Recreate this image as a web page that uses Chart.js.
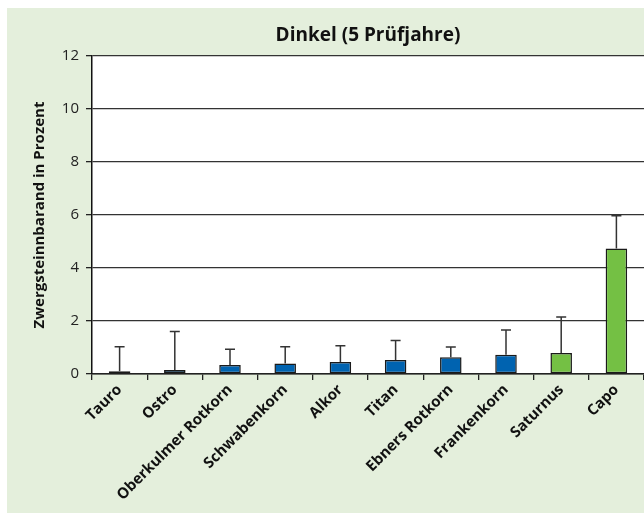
<!DOCTYPE html>
<html>
<head>
<meta charset="utf-8">
<script src="https://cdn.jsdelivr.net/npm/chart.js@4"></script>
<style>
  html, body { margin: 0; padding: 0; background: #fff; }
  #wrap { width: 644px; height: 513px; }
</style>
</head>
<body>
<div id="wrap"><canvas id="dinkelChart" width="644" height="513"></canvas></div>
<script>
/* ============================================================
   DATEN
============================================================ */
const SORTEN   = ['Tauro', 'Ostro', 'Oberkulmer Rotkorn', 'Schwabenkorn', 'Alkor', 'Titan', 'Ebners Rotkorn', 'Frankenkorn', 'Saturnus', 'Capo'];
const BEFALL   = [0.10, 0.15, 0.34, 0.40, 0.45, 0.53, 0.63, 0.73, 0.79, 4.74];
const FEHLER_O = [1.03, 1.60, 0.93, 1.03, 1.07, 1.26, 1.02, 1.66, 2.15, 5.97];   // oberes Ende Fehlerbalken
const GRUPPE   = ['B', 'B', 'B', 'B', 'B', 'B', 'B', 'B', 'G', 'G'];
const Y_TICKS  = [0, 2, 4, 6, 8, 10, 12];

const FARBE = { B: '#0063B0', G: '#74C044' };
const FONT  = '"Open Sans", "DejaVu Sans", sans-serif';

/* ============================================================
   PLUGINS
============================================================ */
const hintergrund = {
    id: 'hintergrund',
    beforeDraw(chart) {
        const { ctx, chartArea: a, width, height } = chart;
        ctx.save();
        ctx.fillStyle = '#E4EFDC';
        ctx.fillRect(7, 8, width - 7, height - 8);
        ctx.fillStyle = '#fff';
        ctx.fillRect(a.left, a.top, a.right - a.left, a.bottom - a.top);
        ctx.restore();
    }
};

const fehlerbalken = {
    id: 'fehlerbalken',
    afterDatasetsDraw(chart) {
        const { ctx, scales: { y } } = chart;
        const meta = chart.getDatasetMeta(0);
        ctx.save();
        ctx.strokeStyle = '#333';
        ctx.lineWidth = 1.5;
        meta.data.forEach((el, i) => {
            const yTop = y.getPixelForValue(FEHLER_O[i]);
            ctx.beginPath();
            ctx.moveTo(el.x, el.y);
            ctx.lineTo(el.x, yTop);
            ctx.moveTo(el.x - 5, yTop);
            ctx.lineTo(el.x + 5, yTop);
            ctx.stroke();
        });
        ctx.restore();
    }
};

/* ============================================================
   GRAFIK
============================================================ */
new Chart(document.getElementById('dinkelChart').getContext('2d'), {
    type: 'bar',
    data: {
        labels: SORTEN,
        datasets: [{
            data: BEFALL,
            backgroundColor: GRUPPE.map(g => FARBE[g]),
            borderColor: '#1a1a1a',
            borderWidth: 1.5,
            borderSkipped: false,
            barPercentage: 0.39,
            categoryPercentage: 1
        }]
    },
    options: {
        responsive: false,
        animation: false,
        layout: { padding: 0 },
        plugins: {
            legend: { display: false },
            tooltip: { enabled: false },
            title: {
                display: true,
                text: 'Dinkel (5 Prüfjahre)',
                fullSize: false,
                color: '#111',
                font: { family: FONT, size: 19, weight: 'bold', lineHeight: 1.2 },
                padding: { top: 24, bottom: 9.2 }
            }
        },
        scales: {
            x: {
                grid: { display: true, drawOnChartArea: false, drawTicks: true, tickLength: 6, color: '#222', lineWidth: 1.3, offset: true },
                border: { display: true, color: '#222', width: 1.5 },
                ticks: {
                    color: '#111',
                    font: { family: FONT, size: 15, weight: 'bold' },
                    minRotation: 45, maxRotation: 45, autoSkip: false, padding: 1
                },
                afterFit: s => { s.height = 139; }
            },
            y: {
                min: 0, max: 12,
                afterBuildTicks: s => { s.ticks = Y_TICKS.map(v => ({ value: v })); },
                grid: { color: '#333', lineWidth: 1.3, tickLength: 6, drawTicks: true, tickColor: '#222' },
                border: { display: true, color: '#111', width: 1.5 },
                ticks: { color: '#222', font: { family: FONT, size: 15 }, padding: 7 },
                title: {
                    display: true,
                    text: 'Zwergsteinnbarand in Prozent',
                    color: '#111',
                    font: { family: FONT, size: 15, weight: 'bold', lineHeight: 1.2 },
                    padding: { top: 31, bottom: 0 }
                },
                afterFit: s => { s.width = 92; }
            }
        }
    },
    plugins: [hintergrund, fehlerbalken]
});
</script>
</body>
</html>
